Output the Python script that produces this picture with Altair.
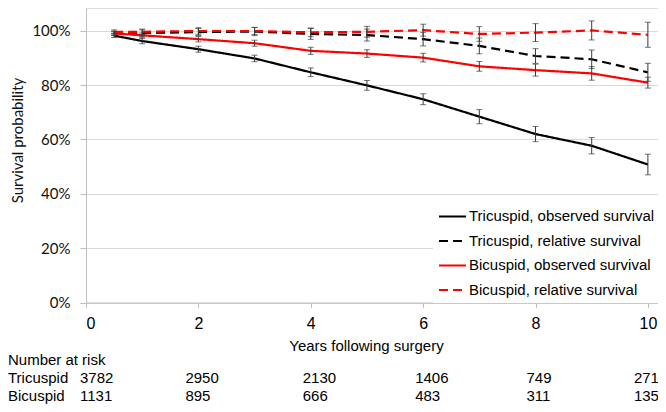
import altair as alt
import pandas as pd

# ---------------- data ----------------
years = [0.5, 1, 2, 3, 4, 5, 6, 7, 8, 9, 10]
series_names = [
    "Tricuspid, observed survival",
    "Tricuspid, relative survival",
    "Bicuspid, observed survival",
    "Bicuspid, relative survival",
]
tri_obs = [98.2, 96.2, 93.2, 89.8, 84.7, 79.9, 74.8, 68.4, 62.0, 57.7, 50.8]
tri_obs_err = [0.7, 1.0, 1.1, 1.2, 1.6, 1.8, 2.0, 2.6, 2.8, 3.0, 3.8]
tri_rel = [99.0, 99.1, 99.5, 99.7, 98.8, 98.4, 96.9, 94.4, 90.7, 89.5, 84.7]
tri_rel_err = [0.8, 1.2, 1.3, 1.5, 2.0, 2.2, 2.5, 2.9, 2.7, 3.4, 3.3]
bic_obs = [99.0, 98.3, 96.9, 95.4, 92.6, 91.6, 90.1, 86.9, 85.5, 84.3, 80.9]
bic_obs_err = [0.6, 0.9, 1.0, 1.1, 1.3, 1.4, 1.6, 1.8, 2.2, 2.5, 2.0]
bic_rel = [99.6, 99.6, 99.9, 99.9, 99.4, 99.6, 100.2, 98.8, 99.3, 100.1, 98.5]
bic_rel_err = [0.7, 1.0, 1.2, 1.3, 1.6, 2.0, 2.2, 2.7, 3.3, 3.5, 4.6]

risk_years = [0, 2, 4, 6, 8, 10]
risk_tri = [3782, 2950, 2130, 1406, 749, 271]
risk_bic = [1131, 895, 666, 483, 311, 135]
table_rows = ["Number at risk", "Tricuspid", "Bicuspid"]
# horizontal text nudge (px) of each number-at-risk column
risk_dx = [-6, -13, -8, -8, -9, -14]

y_ticks = [0, 20, 40, 60, 80, 100]
x_ticks = [0, 2, 4, 6, 8, 10]

# ---------------- tables ----------------
rows = []
for name, vals, errs in zip(series_names,
                            [tri_obs, tri_rel, bic_obs, bic_rel],
                            [tri_obs_err, tri_rel_err, bic_obs_err, bic_rel_err]):
    for yr, v, e in zip(years, vals, errs):
        rows.append({"series": name, "year": yr, "value": v, "lo": v - e, "hi": v + e})
df = pd.DataFrame(rows)

trows = []
for grp, ns in zip(table_rows[1:], [risk_tri, risk_bic]):
    for yr, n in zip(risk_years, ns):
        trows.append({"row": grp, "year": yr, "n": str(n)})
tdf = pd.DataFrame(trows)
ldf = pd.DataFrame({"row": table_rows})

# ---------------- encodings ----------------
x_scale = alt.Scale(domain=[0, 10.18], nice=False, zero=False)
x_axis = alt.Axis(values=x_ticks, title="Years following surgery", grid=False,
                  domainColor="#bfbfbf", tickColor="#bfbfbf", tickSize=5,
                  labelFont="Liberation Sans", labelFontSize=16, labelColor="#000000",
                  labelPadding=8, titleFont="Liberation Sans", titleFontSize=15,
                  titleFontWeight="normal", titleColor="#000000",
                  titleX=280, titleY=43, titleBaseline="middle")
y_scale = alt.Scale(domain=[0, 108.35], nice=False)
y_axis = alt.Axis(values=y_ticks, labelExpr="datum.value + '%'",
                  title="Survival probability", grid=True, gridColor="#d9d9d9",
                  domainColor="#bfbfbf", tickColor="#bfbfbf", tickSize=6,
                  labelFont="Lato", labelFontSize=15, labelColor="#111111",
                  labelPadding=10, titleFont="Lato", titleFontSize=15,
                  titleFontWeight="normal", titleColor="#111111",
                  titleX=-69, titleY=132, titleBaseline="middle")

legend = alt.Legend(title=None, orient="none", legendX=347, legendY=189,
                    padding=5, fillColor="#ffffff", symbolType="stroke",
                    symbolSize=729, symbolStrokeWidth=2,
                    labelFont="Liberation Sans", labelFontSize=15,
                    labelColor="#000000", labelOffset=2, rowPadding=1.5,
                    labelLimit=300)

color = alt.Color("series:N", scale=alt.Scale(domain=series_names,
                  range=["#000000", "#000000", "#ff0000", "#ff0000"]), legend=legend)
dash = alt.StrokeDash("series:N", scale=alt.Scale(domain=series_names,
                      range=[[1, 0], [9, 5], [1, 0], [9, 5]]), legend=legend)

X = alt.X("year:Q", scale=x_scale, axis=x_axis)
base = alt.Chart(df)

lines = base.mark_line(strokeWidth=2.2).encode(
    x=X, y=alt.Y("value:Q", scale=y_scale, axis=y_axis),
    color=color, strokeDash=dash, order="year:Q")
bars = base.mark_rule(color="#3a3a3a", strokeWidth=1).encode(
    x=X, y=alt.Y("lo:Q", scale=y_scale, axis=y_axis), y2="hi:Q")
caps_lo = base.mark_tick(color="#3a3a3a", orient="horizontal", size=6, thickness=1).encode(
    x=X, y=alt.Y("lo:Q", scale=y_scale, axis=y_axis))
caps_hi = base.mark_tick(color="#3a3a3a", orient="horizontal", size=6, thickness=1).encode(
    x=X, y=alt.Y("hi:Q", scale=y_scale, axis=y_axis))

main = alt.layer(lines, bars, caps_lo, caps_hi)

row_scale = alt.Scale(type="point", domain=table_rows, range=[352, 388], padding=0)
row_labels = alt.Chart(ldf).mark_text(align="left", baseline="middle",
                                      font="Liberation Sans", fontSize=15,
                                      color="#000000").encode(
    x=alt.value(-78), y=alt.Y("row:N", scale=row_scale, axis=None), text="row:N")

number_layers = []
for yr, dxv in zip(risk_years, risk_dx):
    number_layers.append(
        alt.Chart(tdf).transform_filter(alt.datum.year == yr).mark_text(
            align="left", baseline="middle", dx=dxv,
            font="Liberation Sans", fontSize=15, color="#000000").encode(
            x=X, y=alt.Y("row:N", scale=row_scale, axis=None), text="n:N"))
table = alt.layer(row_labels, *number_layers)

chart = alt.layer(main, table).resolve_scale(y="independent").properties(
    width=572, height=294.65,
    autosize=alt.AutoSizeParams(type="none"),
    padding={"left": 78, "top": 0, "right": 0, "bottom": 101},
).configure_view(stroke=None).configure(background="#ffffff")

chart.save("out.html", embed_options={"renderer": "svg", "actions": False})
